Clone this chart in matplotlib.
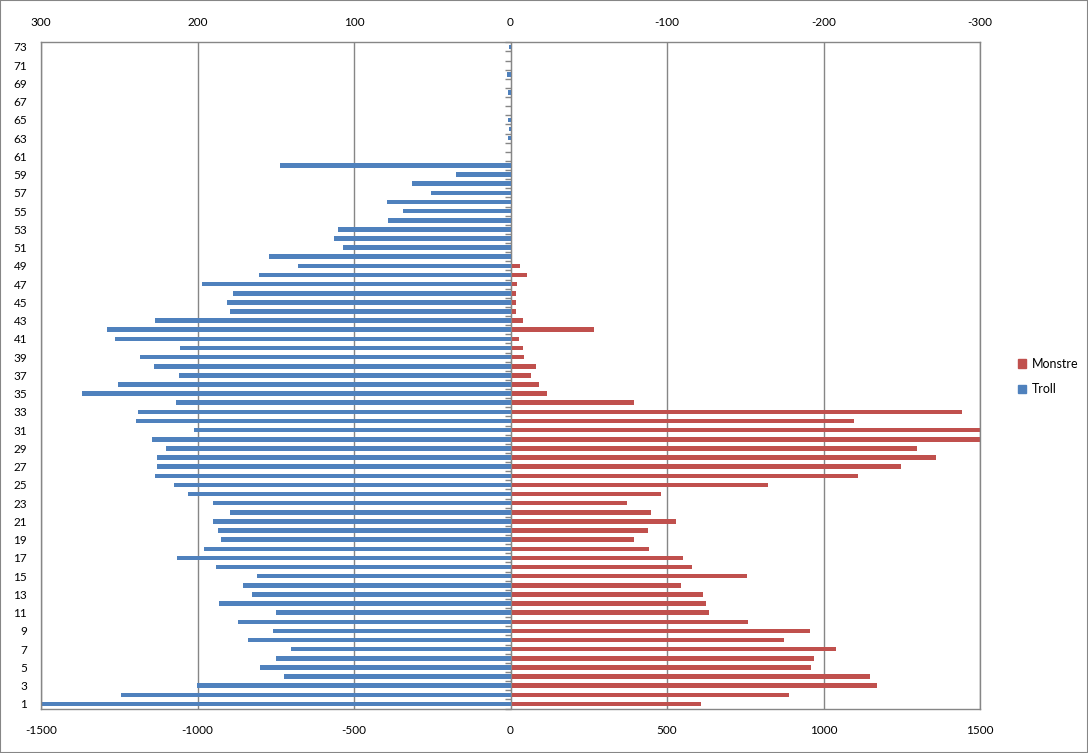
import numpy as np
import matplotlib
matplotlib.use('Agg')
import matplotlib.pyplot as plt
from matplotlib.patches import Patch, Rectangle
from matplotlib.ticker import FixedLocator

plt.rcParams['font.family'] = ['Lato', 'DejaVu Sans']

#   Data (category 1 .. 73)
categories = list(range(1, 74))

monstre = [608, 890, 1172, 1150, 960, 970, 1041, 874, 957, 759,
           634, 624, 614, 544, 755, 579, 550, 444, 396, 438,
           528, 448, 371, 480, 823, 1111, 1249, 1361, 1300, 1560,
           1540, 1098, 1444, 393, 118, 92, 66, 82, 44, 41,
           28, 268, 41, 18, 18, 18, 21, 53, 31, 0,
           0, 0, 4, 0, 0, 0, 0, 0, 0, 0,
           0, 0, 0, 0, 0, 0, 0, 0, 0, 0,
           0, 0, 0]

troll = [300, 249, 200, 145, 160, 150, 140, 168, 152, 174,
         150, 186, 165, 171, 162, 188, 213, 196, 185, 187,
         190, 179, 190, 206, 215, 227, 226, 226, 220, 229,
         202, 239, 238, 214, 274, 251, 212, 228, 237, 211,
         253, 258, 227, 179, 181, 177, 197, 161, 136, 154,
         107, 113, 110, 78, 69, 79, 51, 63, 35, 147,
         0, 0, 1.4, 0.7, 1.4, 0, 0, 1.4, 0, 2.5,
         0, 0, 0.7]

bottom_ticks = [-1500, -1000, -500, 0, 500, 1000, 1500]
top_ticks = [300, 200, 100, 0, -100, -200, -300]
label_cats = categories[::2]

red = '#C0504D'
blue = '#4F81BD'
grey = '#868686'

fig = plt.figure(figsize=(10.88, 7.53), dpi=100)
ax = fig.add_axes([41 / 1088, 1 - 708.5 / 753, 939 / 1088, 666.2 / 753])

#   Monstre on the primary (bottom) axis
ax.barh(categories, monstre, height=0.5, color=red, zorder=2)
ax.set_xlim(-1500, 1500)
ax.set_ylim(0.5, 73.5)
ax.set_xticks(bottom_ticks)
ax.set_xticklabels([str(t) for t in bottom_ticks])
ax.grid(axis='x', color=grey, linewidth=1)
ax.set_axisbelow(True)
ax.tick_params(axis='x', length=0, pad=12, labelsize=8.5)

#   category axis sits at zero, with marks between categories
ax.yaxis.set_major_locator(FixedLocator(label_cats))
ax.yaxis.set_minor_locator(FixedLocator(np.arange(0.5, 74, 1)))
ax.spines['left'].set_position(('data', 0))
ax.spines['left'].set_color(grey)
for s in ['top', 'right', 'bottom']:
    ax.spines[s].set_visible(False)
ax.tick_params(axis='y', which='major', length=0, labelleft=False)
ax.tick_params(axis='y', which='minor', length=4, width=1, color=grey,
               direction='out')

#   Troll on the secondary (top) axis, reversed
ax2 = ax.twiny()
ax2.barh(categories, troll, height=0.5, color=blue, zorder=2)
ax2.set_xlim(300, -300)
ax2.set_xticks(top_ticks)
ax2.set_xticklabels([str(t) for t in top_ticks])
ax2.tick_params(axis='x', length=0, pad=10, labelsize=8.5)
ax2.yaxis.set_visible(True)
ax2.set_yticks(label_cats)
ax2.set_yticklabels([str(c) for c in label_cats])
ax2.tick_params(axis='y', which='both', length=0, pad=10, labelsize=8.5,
                labelleft=True, labelright=False)
for s in ax2.spines.values():
    s.set_color(grey)
    s.set_linewidth(1)

#   Legend outside on the right
handles = [Patch(color=red, label='Monstre'), Patch(color=blue, label='Troll')]
fig.legend(handles=handles, loc='center left', bbox_to_anchor=(0.925, 0.5),
           frameon=False, fontsize=9, handlelength=0.7, handleheight=0.7,
           handletextpad=0.4, labelspacing=1.1)

#   Chart border
fig.patches.append(Rectangle((0, 0), 1, 1, transform=fig.transFigure,
                             fill=False, edgecolor=grey, linewidth=1.5))

fig.savefig('out.png', dpi=100)
